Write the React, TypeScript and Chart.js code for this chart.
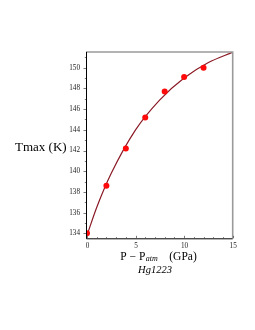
import React, { useEffect, useRef } from "react";
import { Chart, registerables } from "chart.js";

Chart.register(...registerables);

// Measured points (pressure in GPa, Tmax in K)
const pressure = [0, 2, 4, 6, 8, 10, 12];
const tmax = [134.0, 138.6, 142.2, 145.2, 147.7, 149.1, 150.0];

// Fitted curve
const curveP = [0, 1, 2.5, 5, 7.5, 10, 12.5, 15];
const curveT = [133.8, 136.5, 139.8, 144.0, 146.9, 149.0, 150.5, 151.5];

// Axis ticks
const xMajorTicks = [0, 5, 10, 15];
const xMinorTicks = [1, 2, 3, 4, 6, 7, 8, 9, 11, 12, 13, 14];
const yMajorTicks = [134, 136, 138, 140, 142, 144, 146, 148, 150];
const yMinorTicks = [135, 137, 139, 141, 143, 145, 147, 149, 151];

const X_MIN = -0.1;
const X_MAX = 15;
const Y_MIN = 133.52;
const Y_MAX = 151.52;

const SERIF = "'Liberation Serif', 'Times New Roman', serif";

const framePlugin = {
  id: "frame",
  afterDatasetsDraw(chart: any) {
    const { ctx, chartArea: a, scales } = chart;
    const xs = scales.x;
    const ys = scales.y;
    ctx.save();
    // top & right gray frame
    ctx.strokeStyle = "#9a9a9a";
    ctx.lineWidth = 1.6;
    ctx.beginPath();
    ctx.moveTo(a.left, a.top);
    ctx.lineTo(a.right, a.top);
    ctx.lineTo(a.right, a.bottom);
    ctx.stroke();
    // left & bottom black axes
    ctx.strokeStyle = "#000";
    ctx.lineWidth = 1;
    ctx.beginPath();
    ctx.moveTo(a.left + 0.5, a.top);
    ctx.lineTo(a.left + 0.5, a.bottom + 0.5);
    ctx.lineTo(a.right, a.bottom + 0.5);
    ctx.stroke();
    // ticks
    ctx.strokeStyle = "#444";
    ctx.lineWidth = 0.7;
    ctx.beginPath();
    yMajorTicks.forEach((v) => {
      const y = Math.round(ys.getPixelForValue(v)) + 0.5;
      ctx.moveTo(a.left - 2.5, y);
      ctx.lineTo(a.left, y);
    });
    yMinorTicks.forEach((v) => {
      if (v > Y_MAX) return;
      const y = Math.round(ys.getPixelForValue(v)) + 0.5;
      ctx.moveTo(a.left - 1.2, y);
      ctx.lineTo(a.left, y);
    });
    xMajorTicks.forEach((v) => {
      const x = Math.round(xs.getPixelForValue(v)) + 0.5;
      ctx.moveTo(x, a.bottom);
      ctx.lineTo(x, a.bottom - 2.5);
    });
    xMinorTicks.forEach((v) => {
      const x = Math.round(xs.getPixelForValue(v)) + 0.5;
      ctx.moveTo(x, a.bottom);
      ctx.lineTo(x, a.bottom - 1.2);
    });
    ctx.stroke();

    // tick labels
    ctx.fillStyle = "#222";
    ctx.font = `7.2px ${SERIF}`;
    ctx.textBaseline = "middle";
    ctx.textAlign = "right";
    yMajorTicks.forEach((v) => {
      ctx.fillText(String(v), a.left - 6, ys.getPixelForValue(v));
    });
    ctx.textAlign = "center";
    xMajorTicks.forEach((v) => {
      ctx.fillText(String(v), xs.getPixelForValue(v) + 0.5, a.bottom + 7.5);
    });

    // titles
    ctx.fillStyle = "#000";
    ctx.textBaseline = "middle";
    ctx.textAlign = "left";
    ctx.font = `13px ${SERIF}`;
    ctx.fillText("Tmax (K)", 15, 147.5);

    // x title: P − P_atm  (GPa)
    const partA = "P \u2212 P";
    const partB = "atm";
    const partC = "(GPa)";
    const gap = 12;
    ctx.font = `11.5px ${SERIF}`;
    const wA = ctx.measureText(partA).width;
    const wC = ctx.measureText(partC).width;
    ctx.font = `italic 8px ${SERIF}`;
    const wB = ctx.measureText(partB).width;
    const total = wA + wB + gap + wC;
    let x0 = 158.5 - total / 2;
    const ty = 257;
    ctx.font = `11.5px ${SERIF}`;
    ctx.fillText(partA, x0, ty);
    x0 += wA;
    ctx.font = `italic 8px ${SERIF}`;
    ctx.fillText(partB, x0 + 0.5, ty + 1.5);
    x0 += wB + gap;
    ctx.font = `11.5px ${SERIF}`;
    ctx.fillText(partC, x0, ty);

    ctx.textAlign = "center";
    ctx.font = `italic 10.5px ${SERIF}`;
    ctx.fillText("Hg1223", 155, 270);
    ctx.restore();
  },
};

export default function App() {
  const ref = useRef<HTMLCanvasElement>(null);

  useEffect(() => {
    if (!ref.current) return;
    const chart = new Chart(ref.current, {
      type: "scatter",
      data: {
        datasets: [
          {
            type: "scatter",
            label: "data",
            data: pressure.map((p, i) => ({ x: p, y: tmax[i] })),
            backgroundColor: "#ff0a0a",
            borderWidth: 0,
            pointRadius: 3,
          },
          {
            type: "line",
            label: "fit",
            data: curveP.map((p, i) => ({ x: p, y: curveT[i] })),
            borderColor: "#8a1a26",
            borderWidth: 1.2,
            pointRadius: 0,
            fill: false,
            cubicInterpolationMode: "monotone",
          } as any,
        ],
      },
      plugins: [framePlugin],
      options: {
        responsive: true,
        maintainAspectRatio: false,
        animation: false,
        layout: { padding: { left: 86, top: 52, right: 22.3, bottom: 91.7 } },
        plugins: { legend: { display: false }, tooltip: { enabled: false } },
        scales: {
          x: {
            type: "linear",
            min: X_MIN,
            max: X_MAX,
            afterFit: (s: any) => {
              s.height = 0;
            },
            border: { display: false },
            grid: { display: false },
            ticks: { display: false, stepSize: 5, includeBounds: false },
          },
          y: {
            type: "linear",
            min: Y_MIN,
            max: Y_MAX,
            afterFit: (s: any) => {
              s.width = 0;
            },
            border: { display: false },
            grid: { display: false },
            ticks: { display: false, stepSize: 2, includeBounds: false },
          },
        },
      },
    });
    return () => chart.destroy();
  }, []);

  return (
    <div style={{ position: "fixed", left: 0, top: 0, width: 255, height: 330, background: "#fff" }}>
      <canvas ref={ref} />
    </div>
  );
}
